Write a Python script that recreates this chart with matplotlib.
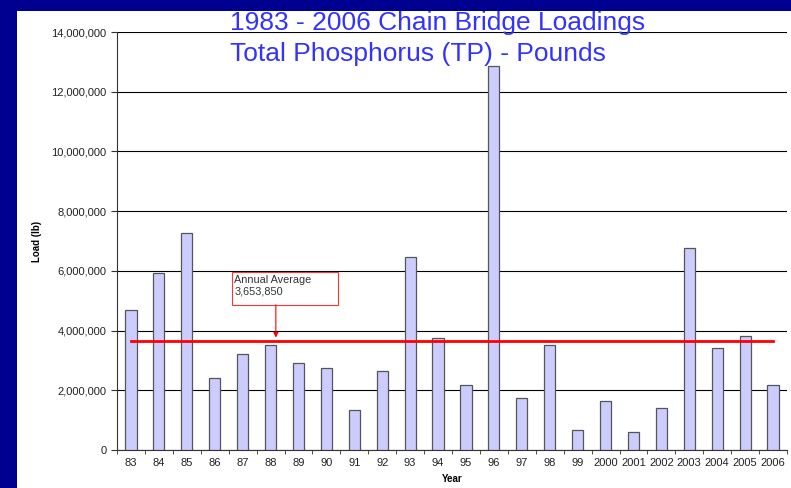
import numpy as np
import matplotlib.pyplot as plt
from matplotlib.patches import Rectangle
from matplotlib.ticker import FuncFormatter, FixedLocator

years = ["83", "84", "85", "86", "87", "88", "89", "90", "91", "92", "93", "94",
         "95", "96", "97", "98", "99", "2000", "2001", "2002", "2003", "2004", "2005", "2006"]
loads = [4690000, 5930000, 7270000, 2410000, 3220000, 3520000, 2910000, 2750000,
         1340000, 2650000, 6460000, 3750000, 2170000, 12850000, 1730000, 3520000,
         670000, 1630000, 590000, 1420000, 6770000, 3420000, 3820000, 2190000]
annual_average = 3653850

plt.rcParams['font.family'] = ['Liberation Sans', 'DejaVu Sans']

navy = "#000090"
fig = plt.figure(figsize=(7.91, 4.88), dpi=100, facecolor=navy)
# white slide panel behind the chart
bg = fig.add_axes([17 / 791, 0, 1 - 17 / 791, 1], zorder=-1)
bg.set_facecolor("white")
bg.set_xticks([])
bg.set_yticks([])
for s in bg.spines.values():
    s.set_visible(False)

ax = fig.add_axes([117 / 791, 38 / 488, 670 / 791, 418 / 488])
ax.set_facecolor("white")
x = np.arange(len(years))
ax.bar(x, loads, width=0.4, color="#CCCCFF", edgecolor="#555555", linewidth=0.9, zorder=3)
ax.plot([x[0], x[-1]], [annual_average, annual_average], color="#FF0000", linewidth=2, zorder=4)

ax.set_xlim(-0.5, len(years) - 0.5)
ax.set_ylim(0, 14000000)
ax.set_yticks(np.arange(0, 14000001, 2000000))
ax.yaxis.set_major_formatter(FuncFormatter(lambda v, p: f"{int(v):,}"))
ax.grid(axis="y", color="#000000", linewidth=0.8, zorder=1)
ax.set_xticks(x)
ax.set_xticklabels(years)
ax.tick_params(axis="x", which="major", length=0, pad=6, labelsize=8, labelcolor="#222222")
ax.xaxis.set_minor_locator(FixedLocator(np.arange(-0.5, len(years), 1)))
ax.tick_params(axis="x", which="minor", length=3, direction="out", color="#333333")
ax.tick_params(axis="y", length=4, direction="out", labelsize=8, color="#333333", labelcolor="#222222")
for s in ["top", "right"]:
    ax.spines[s].set_visible(False)
ax.spines["left"].set_color("#333333")
ax.spines["bottom"].set_color("#333333")

ax.set_xlabel("Year", fontsize=7, fontweight="bold", labelpad=4)
ax.set_ylabel("Load (lb)", fontsize=7, fontweight="bold", labelpad=7)

# callout box for the average
ax.add_patch(Rectangle((3.62, 4860000), 3.8, 1100000, facecolor="white", edgecolor="#FF3333",
                       linewidth=0.8, zorder=5))
ax.text(3.7, 5850000, "Annual Average\n3,653,850", fontsize=7.8, color="#333333",
        va="top", ha="left", linespacing=1.1, zorder=6)
ax.annotate("", xy=(5.19, annual_average + 110000), xytext=(5.19, 4860000),
            arrowprops=dict(arrowstyle="-|>", color="#FF0000", linewidth=0.8, mutation_scale=7,
                            shrinkA=0, shrinkB=0), zorder=5)

fig.text(230 / 791, 1 - 11 / 488, "1983 - 2006 Chain Bridge Loadings\nTotal Phosphorus (TP) - Pounds",
         ha="left", va="top", fontsize=19, color="#3333FF", linespacing=1.38, zorder=9)
# navy top band drawn over the title, as in the slide
fig.add_artist(Rectangle((0, 1 - 11 / 488), 1, 11 / 488, transform=fig.transFigure,
                         facecolor=navy, edgecolor="none", zorder=10))

fig.savefig("out.png", dpi=100, facecolor=fig.get_facecolor())
